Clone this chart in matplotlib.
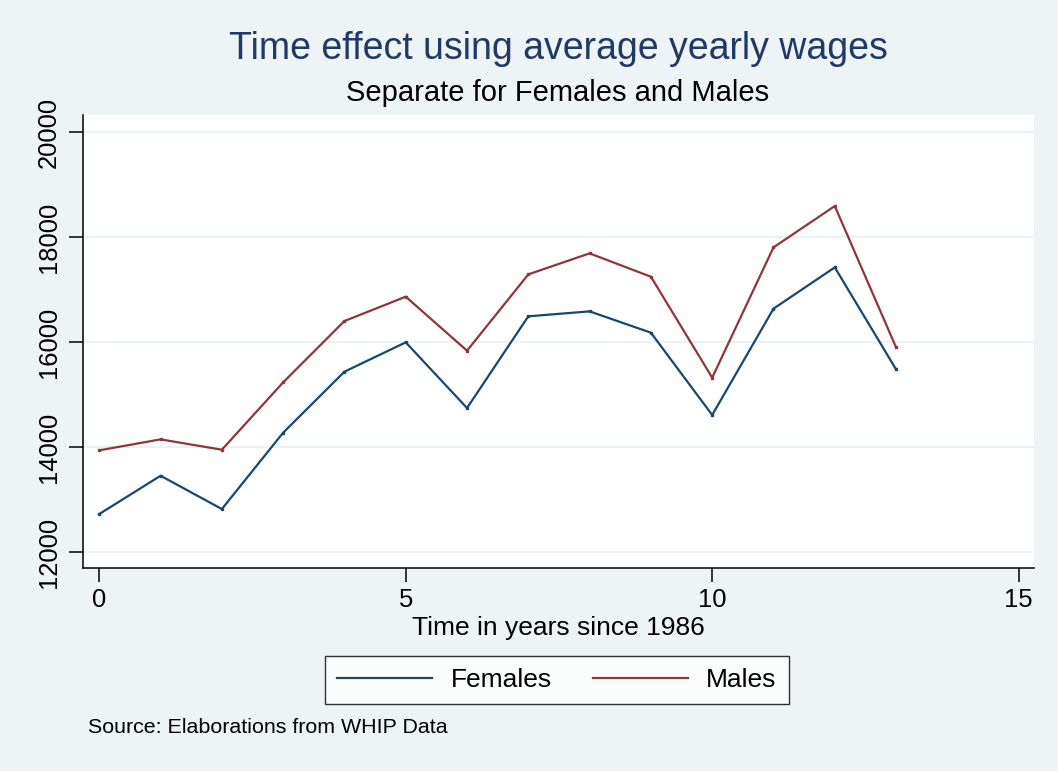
import numpy as np
import matplotlib
matplotlib.use("Agg")
import matplotlib.pyplot as plt

# average yearly wages, years since 1986
years = [0, 1, 2, 3, 4, 5, 6, 7, 8, 9, 10, 11, 12, 13]
females = [12724, 13453, 12819, 14273, 15435, 15994, 14743,
           16490, 16584, 16178, 14610, 16635, 17422, 15479]
males = [13937, 14146, 13949, 15232, 16400, 16864, 15835,
         17289, 17689, 17244, 15321, 17803, 18590, 15899]
yticks = [12000, 14000, 16000, 18000, 20000]
xticks = [0, 5, 10, 15]

plt.rcParams['font.family'] = ['Liberation Sans', 'DejaVu Sans']

bg = '#eef3f5'
navy = '#1a476f'
maroon = '#90353b'

fig = plt.figure(figsize=(10.58, 7.71), dpi=100, facecolor=bg)
ax = fig.add_axes([0.0782, 0.2629, 0.8991, 0.5879])
ax.set_facecolor('white')

l1, = ax.plot(years, females, '-', color=navy, lw=1.6, marker='s', ms=1.8, label='Females')
l2, = ax.plot(years, males, '-', color=maroon, lw=1.6, marker='s', ms=1.8, label='Males')

ax.set_xlim(-0.27, 15.25)
ax.set_ylim(11690, 20324)
ax.set_xticks(xticks)
ax.set_yticks(yticks)
ax.set_yticklabels([str(v) for v in yticks], rotation=90, va='center')
ax.tick_params(axis='both', labelsize=18.4, length=10, width=1.1, direction='out')
ax.tick_params(axis='y', pad=6)
ax.tick_params(axis='x', pad=4)
ax.grid(axis='y', color='#eaf2f3', lw=1.5)
ax.set_axisbelow(True)
for s in ['top', 'right']:
    ax.spines[s].set_visible(False)
for s in ['left', 'bottom']:
    ax.spines[s].set_linewidth(1.1)

ax.set_xlabel('Time in years since 1986', fontsize=19, labelpad=3)

cx = 0.5274  # centre of the plot region
fig.text(cx, 0.937, 'Time effect using average yearly wages', ha='center', va='center',
         fontsize=27, color='#1f3a66')
fig.text(cx, 0.880, 'Separate for Females and Males', ha='center', va='center', fontsize=21)
fig.text(0.083, 0.057, 'Source: Elaborations from WHIP Data', ha='left', va='center', fontsize=15.4)

leg = fig.legend(handles=[l1, l2], loc='center', bbox_to_anchor=(0.5265, 0.1180), ncol=2,
                 fontsize=19, frameon=True, fancybox=False, edgecolor='black',
                 handlelength=3.6, handletextpad=0.7, columnspacing=1.55,
                 borderpad=0.45, borderaxespad=0)
leg.get_frame().set_linewidth(1.0)
for h in leg.legend_handles:
    h.set_marker('')

fig.savefig('out.png', dpi=100, facecolor=bg)
